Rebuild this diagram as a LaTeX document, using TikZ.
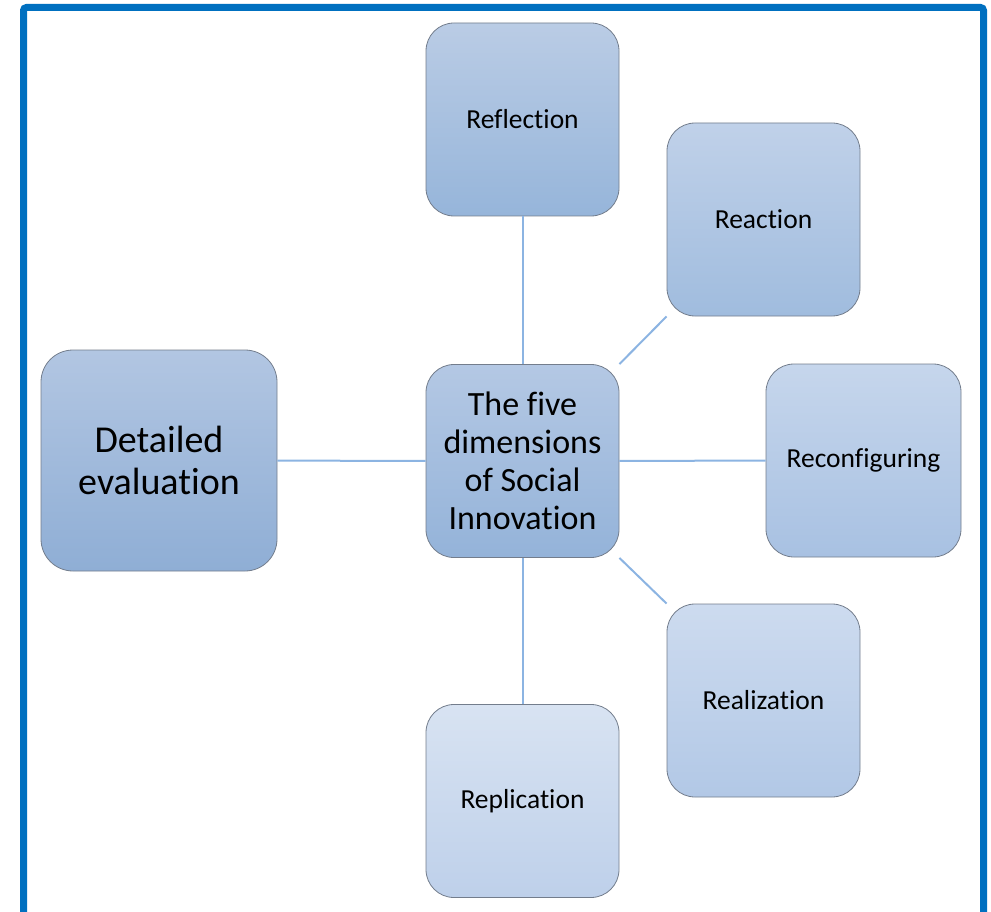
\documentclass[tikz,border=0pt]{standalone}
\usepackage{fontspec}
\setmainfont{Carlito}[Ligatures={NoCommon}]
\definecolor{frameblue}{RGB}{0,112,192}
\definecolor{boxedge}{RGB}{115,125,140}
\definecolor{linkblue}{RGB}{140,180,226}
\definecolor{refT}{RGB}{186,204,229}
\definecolor{refB}{RGB}{150,181,218}
\definecolor{cenT}{RGB}{180,200,228}
\definecolor{cenB}{RGB}{148,179,217}
\definecolor{detT}{RGB}{178,198,226}
\definecolor{detB}{RGB}{143,174,213}
\definecolor{reaT}{RGB}{192,209,233}
\definecolor{reaB}{RGB}{160,188,222}
\definecolor{recT}{RGB}{198,214,236}
\definecolor{recB}{RGB}{168,193,226}
\definecolor{relT}{RGB}{205,219,239}
\definecolor{relB}{RGB}{178,200,230}
\definecolor{repT}{RGB}{216,227,242}
\definecolor{repB}{RGB}{190,208,234}
\tikzset{
  box/.style={draw=boxedge, line width=0.8pt, rounded corners=28pt,
    minimum width=193pt, minimum height=193pt, inner sep=0pt, align=center,
    font=\fontsize{27.5}{32}\selectfont, text=black},
  link/.style={draw=linkblue, line width=2pt}
}
\begin{document}
\begin{tikzpicture}[x=1pt,y=-1pt]
\useasboundingbox (0,0) rectangle (991,912);
\clip (0,0) rectangle (991,912);
\draw[frameblue, line width=7pt, rounded corners=3pt] (23.5,7.5) rectangle (983.5,940);

\node[box, top color=cenT, bottom color=cenB, font=\fontsize{34}{38}\selectfont] (center) at (522.5,461)
  {The five\\dimensions\\of Social\\Innovation};
\node[box, top color=refT, bottom color=refB] (reflection) at (522.5,119.5) {Reflection};
\node[box, top color=reaT, bottom color=reaB] (reaction) at (763.5,219.5) {Reaction};
\node[box, top color=recT, bottom color=recB, minimum width=195pt] (reconf) at (863.5,460.5) {Reconfiguring};
\node[box, top color=relT, bottom color=relB] (realization) at (763.5,700.5) {Realization};
\node[box, top color=repT, bottom color=repB] (replication) at (522.5,801) {Replication};
\node[box, top color=detT, bottom color=detB, minimum width=236pt, minimum height=221pt,
  rounded corners=32pt, font=\fontsize{38}{42}\selectfont] (detailed) at (159,460.5) {Detailed\\evaluation};

\draw[link] (reflection) -- (center);
\draw[link] (center.north east) -- (reaction.south west);
\draw[link] (center) -- (reconf);
\draw[link] (center.south east) -- (realization.north west);
\draw[link] (center) -- (replication);
\draw[link] (detailed) -- (center);
\end{tikzpicture}
\end{document}
